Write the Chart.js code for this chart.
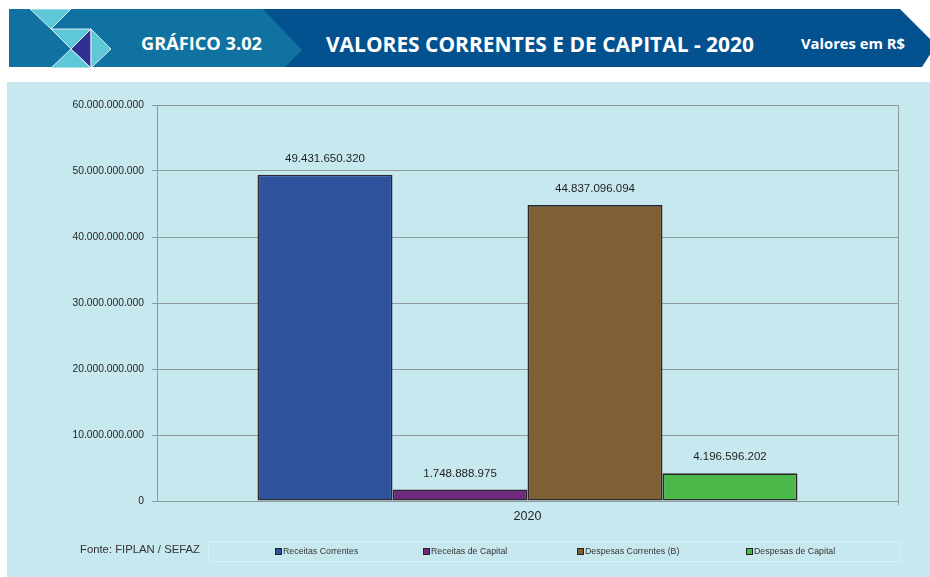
<!DOCTYPE html>
<html lang="pt-BR">
<head>
<meta charset="utf-8">
<title>Gráfico 3.02 - Valores Correntes e de Capital - 2020</title>
<script src="https://cdn.jsdelivr.net/npm/chart.js@4.4.1/dist/chart.umd.min.js"></script>
<style>
    html, body {
        margin: 0;
        padding: 0;
        width: 930px;
        height: 577px;
        background: #ffffff;
        overflow: hidden;
        font-family: Arial, "Liberation Sans", sans-serif;
    }
    #header {
        position: absolute;
        left: 0;
        top: 0;
    }
    #panel {
        position: absolute;
        left: 7px;
        top: 82px;
        width: 923px;
        height: 495px;
        background: #c8e8ef;
    }
    #chartWrap {
        position: absolute;
        left: 0;
        top: 82px;
        width: 930px;
        height: 495px;
    }
    #source {
        position: absolute;
        left: 80px;
        top: 543px;
        font-size: 11.3px;
        color: #333;
    }
    #legendBox {
        position: absolute;
        left: 208px;
        top: 541px;
        width: 692px;
        height: 21px;
        border: 1px solid #d8f0f5;
        box-sizing: border-box;
    }
    #legend {
        position: absolute;
        left: 275px;
        top: 546px;
        display: flex;
        font-size: 8.8px;
        color: #333;
        white-space: nowrap;
    }
    .legend-item {
        display: flex;
        align-items: center;
    }
    .legend-item:nth-child(1) { width: 148px; }
    .legend-item:nth-child(2) { width: 154px; }
    .legend-item:nth-child(3) { width: 169px; }
    .legend-swatch {
        width: 5px;
        height: 5px;
        border: 1px solid #222;
        margin-right: 1px;
    }
</style>
</head>
<body>

<svg id="header" width="930" height="80" xmlns="http://www.w3.org/2000/svg">
    <!-- dark band with arrow tip -->
    <polygon points="9,9 900,9 936,45 922,67 9,67" fill="#03518f"/>
    <!-- lighter section -->
    <polygon points="9,9 263,9 302,50 285,67 9,67" fill="#0f72a0"/>
    <!-- icon -->
    <g stroke="#ffffff" stroke-width="0.8">
        <polygon points="30,9 71,9 51,29" fill="#5ec8d8"/>
        <polygon points="51,29 91,29 71,49" fill="#5ec8d8"/>
        <polygon points="91,29 91,68 71,49" fill="#2e3192"/>
        <polygon points="91,29 111,49 91,68" fill="#5ec8d8"/>
        <polygon points="71,49 51,68 91,68" fill="#5ec8d8"/>
    </g>
    <g fill="#ffffff" font-family="'Open Sans', sans-serif" font-weight="bold">
        <text x="141" y="50" font-size="17" textLength="121" lengthAdjust="spacingAndGlyphs">GRÁFICO 3.02</text>
        <text x="326" y="52" font-size="21" textLength="428" lengthAdjust="spacingAndGlyphs">VALORES CORRENTES E DE CAPITAL - 2020</text>
        <text x="801" y="49" font-size="14.5" textLength="104" lengthAdjust="spacingAndGlyphs">Valores em R$</text>
    </g>
</svg>

<div id="panel"></div>
<div id="chartWrap"><canvas id="valoresChart" width="930" height="495"></canvas></div>
<div id="source">Fonte: FIPLAN / SEFAZ</div>
<div id="legendBox"></div>
<div id="legend"></div>

<script>
// Chart data
const categories = ['2020'];
const seriesNames = ['Receitas Correntes', 'Receitas de Capital', 'Despesas Correntes (B)', 'Despesas de Capital'];
const seriesValues = [49431650320, 1748888975, 44837096094, 4196596202];
const seriesColors = ['#2e529c', '#6e2a7c', '#7f6035', '#4bb84a'];
const yTicks = [0, 10000000000, 20000000000, 30000000000, 40000000000, 50000000000, 60000000000];

// Format number with dots as thousand separator (pt-BR style)
function formatNumber(value) {
    return String(Math.round(value)).replace(/\B(?=(\d{3})+(?!\d))/g, '.');
}

// Value labels above bars
const valueLabelPlugin = {
    id: 'valueLabels',
    afterDatasetsDraw(chart) {
        const ctx = chart.ctx;
        ctx.save();
        ctx.font = '11.5px Arial, "Liberation Sans", sans-serif';
        ctx.fillStyle = '#1f1f1f';
        ctx.textAlign = 'center';
        ctx.textBaseline = 'middle';
        chart.data.datasets.forEach((dataset, i) => {
            const meta = chart.getDatasetMeta(i);
            meta.data.forEach((bar, j) => {
                ctx.fillText(formatNumber(dataset.data[j]), bar.x, bar.y - 16);
            });
        });
        ctx.restore();
    }
};

// Frame around plot area (right border)
const plotFramePlugin = {
    id: 'plotFrame',
    beforeDatasetsDraw(chart) {
        const { ctx, chartArea } = chart;
        ctx.save();
        ctx.strokeStyle = '#8f9a9c';
        ctx.lineWidth = 1;
        ctx.beginPath();
        ctx.moveTo(Math.round(chartArea.right) + 0.5, chartArea.top);
        ctx.lineTo(Math.round(chartArea.right) + 0.5, chartArea.bottom + 4);
        ctx.stroke();
        ctx.restore();
    }
};

const datasets = seriesNames.map((name, i) => ({
    label: name,
    data: [seriesValues[i]],
    backgroundColor: seriesColors[i],
    borderColor: '#2a2a2a',
    borderWidth: 1.6,
    borderSkipped: false
}));

new Chart(document.getElementById('valoresChart'), {
    type: 'bar',
    data: {
        labels: categories,
        datasets: datasets
    },
    options: {
        responsive: false,
        animation: false,
        categoryPercentage: 0.7287,
        barPercentage: 1,
        layout: {
            padding: { top: 23, right: 32, left: 0, bottom: 0 }
        },
        plugins: {
            legend: { display: false },
            tooltip: { enabled: false }
        },
        scales: {
            x: {
                grid: { display: false, drawTicks: false },
                border: { display: true, color: '#8f9a9c' },
                ticks: {
                    color: '#1f1f1f',
                    padding: 8,
                    font: { family: 'Arial, "Liberation Sans", sans-serif', size: 12.5 }
                },
                afterFit(scale) {
                    scale.height = 76;
                }
            },
            y: {
                min: 0,
                max: 60000000000,
                afterBuildTicks(scale) {
                    scale.ticks = yTicks.map(v => ({ value: v }));
                },
                grid: {
                    color: '#8f9a9c',
                    lineWidth: 1,
                    tickLength: 5
                },
                border: { display: true, color: '#8f9a9c' },
                ticks: {
                    color: '#1f1f1f',
                    padding: 8,
                    font: { family: 'Arial, "Liberation Sans", sans-serif', size: 10.3 },
                    callback: (value) => formatNumber(value)
                },
                afterFit(scale) {
                    scale.width = 157;
                }
            }
        }
    },
    plugins: [valueLabelPlugin, plotFramePlugin]
});

// HTML legend built from the series arrays
const legendEl = document.getElementById('legend');
legendEl.innerHTML = seriesNames.map((name, i) => `
    <div class="legend-item">
        <span class="legend-swatch" style="background:${seriesColors[i]}"></span>${name}
    </div>
`).join('');
</script>
</body>
</html>
